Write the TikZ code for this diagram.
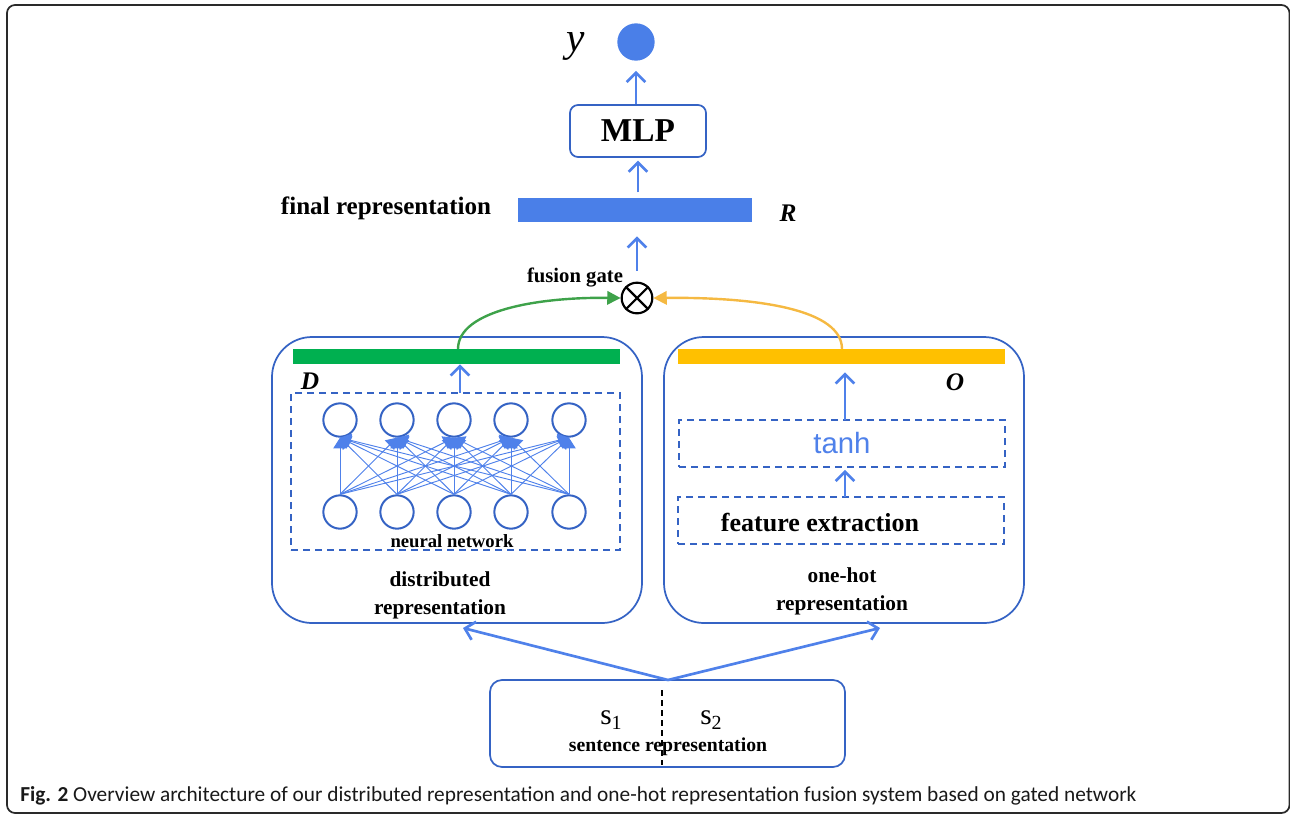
\documentclass[tikz,border=0pt]{standalone}
\usepackage{fontspec}
\setmainfont{Liberation Serif}
\newfontfamily\capfont{Carlito}
\newfontfamily\arialfont{Liberation Sans}
\usetikzlibrary{arrows.meta}
\definecolor{abl}{HTML}{4F81EA}
\definecolor{bbl}{HTML}{3563C4}
\definecolor{fbl}{HTML}{4A7FE8}
\definecolor{gbar}{HTML}{00B050}
\definecolor{ybar}{HTML}{FFC000}
\definecolor{gcur}{HTML}{3EA24A}
\definecolor{ycur}{HTML}{F5B942}
\definecolor{frm}{HTML}{2A2A2A}
\begin{document}
\begin{tikzpicture}[x=0.75pt,y=-0.75pt,
  box/.style={draw=bbl,line width=1.3pt,rounded corners=#1,inner sep=0pt},
  dbox/.style={draw=bbl,line width=1.3pt,dash pattern=on 5.25pt off 3.75pt,inner sep=0pt},
  barnode/.style={inner sep=0pt,draw=none},
  arr/.style={draw=abl,line width=2pt,-{Straight Barb[length=7pt,width=14pt,line width=2pt]}},
  neuron/.style={circle,draw=bbl,line width=1.5pt,minimum size=25pt,inner sep=0pt},
  nnline/.style={draw=abl,line width=0.7pt,-{Triangle[length=8pt,width=10pt]}},
  lbl/.style={inner sep=0pt,font=\bfseries\fontsize{#1}{#1}\selectfont},
  ilbl/.style={inner sep=0pt,font=\bfseries\itshape\fontsize{#1}{#1}\selectfont},
]
\useasboundingbox (0,0) rectangle (1290,815);
\begin{scope}
\clip (0,0) rectangle (1290,815);
\draw[frm,line width=1.3pt,rounded corners=6pt] (7,5) rectangle (1289.5,813);
\end{scope}

% top part
\node[circle,fill=fbl,minimum size=28pt,inner sep=0pt] (yout) at (636,42) {};
\node[inner sep=0pt,font=\itshape\fontsize{31}{31}\selectfont] (ylbl) at (576,46) {y};
\node[box=6pt,minimum width=102pt,minimum height=39pt,font=\bfseries\fontsize{25}{25}\selectfont] (mlp) at (638,131) {MLP};
\node[barnode,fill=fbl,minimum width=175.5pt,minimum height=18pt] (rbar) at (635,210) {};
\node[lbl=18.8] (frl) at (386,208) {final representation};
\node[ilbl=19] (rl) at (788,213) {R};
\node[circle,draw=black,line width=1.6pt,minimum size=23pt,inner sep=0pt] (gate) at (637,298) {};
\draw[black,line width=1.6pt] (gate.north west) -- (gate.south east) (gate.north east) -- (gate.south west);
\node[lbl=15.5] (fgl) at (575,277) {fusion gate};

\draw[arr,shorten <=8pt,shorten >=10.5pt] (gate.north) -- (rbar.south -| gate.north);
\draw[arr,shorten <=4pt,shorten >=2pt] (rbar.north -| mlp.south) -- (mlp.south);
\draw[arr,shorten >=7.5pt] (mlp.north -| yout.south) -- (yout.south);

% left box
\node[box=30pt,minimum width=277.5pt,minimum height=214.5pt] (lbox) at (457,480) {};
\node[barnode,fill=gbar,minimum width=245.25pt,minimum height=11.25pt] (gb) at (456.5,356.5) {};
\node[ilbl=19] (dl) at (310,381) {D};
\node[dbox,minimum width=246.75pt,minimum height=117.75pt] (nnbox) at (455.5,471.5) {};
\coordinate (nnt) at (460,393);
\draw[arr] (nnt) -- (nnt |- gb.south);
\foreach \i/\x in {1/340,2/397,3/454,4/511,5/569}{
  \node[neuron] (t\i) at (\x,420) {};
  \node[neuron] (b\i) at (\x,512) {};
}
\foreach \i in {1,...,5}{
  \foreach \j in {1,...,5}{
    \draw[nnline] (b\i.north) -- (t\j.south);
  }
}
\node[lbl=14] (nnl) at (452,541) {neural network};
\node[lbl=16,align=center] (drl) at (440,595) {distributed\\[5pt]representation};

% right box
\node[box=30pt,minimum width=270pt,minimum height=214.5pt] (rbox) at (844,480) {};
\node[barnode,fill=ybar,minimum width=245.25pt,minimum height=11.25pt] (yb) at (841.5,356.5) {};
\node[ilbl=19] (ol) at (955,382) {O};
\node[dbox,minimum width=244.5pt,minimum height=35.25pt,font=\arialfont\fontsize{22}{22}\selectfont,text=abl] (tanhb) at (842,443.5) {tanh};
\node[dbox,minimum width=244.5pt,minimum height=35.25pt] (feb) at (841,520.5) {};
\node[lbl=19.5] (fel) at (820,522) {feature extraction};
\coordinate (tt) at (845,420);
\coordinate (ft) at (845,497);
\draw[arr,shorten >=6pt] (tt) -- (tt |- yb.south);
\draw[arr,shorten >=1.5pt] (ft) -- (ft |- tanhb.south);
\node[lbl=16,align=center] (ohl) at (842,591) {one-hot\\[5pt]representation};

% fusion curves
\coordinate (gs) at (458,349);
\coordinate (ys) at (842,349);
\draw[gcur,line width=1.8pt,-{Triangle[length=10pt,width=10pt]}] (gs) .. controls (458,310) and (540,297) .. (gate.west);
\draw[ycur,line width=1.8pt,-{Triangle[length=10pt,width=10pt]}] (ys) .. controls (842,310) and (760,297) .. (gate.east);

% sentence box
\node[box=9pt,minimum width=266.25pt,minimum height=65.25pt] (sbox) at (667.5,723.5) {};
\coordinate (dtop) at (662,690);
\coordinate (dbot) at (662,765);
\draw[black,line width=1.1pt,dash pattern=on 4.5pt off 3pt] (dtop) -- (dbot);
\node[inner sep=0pt,font=\fontsize{22}{22}\selectfont] (s1) at (611,720) {s\raisebox{-0.35ex}{\fontsize{15}{15}\selectfont 1}};
\node[inner sep=0pt,font=\fontsize{22}{22}\selectfont] (s2) at (711,720) {s\raisebox{-0.35ex}{\fontsize{15}{15}\selectfont 2}};
\node[lbl=14.8] (srl) at (668,747) {sentence representation};
\coordinate (split) at (668,680);
\coordinate (lt) at (463,628);
\coordinate (rt) at (880,628);
\draw[arr] (split) -- (lt);
\draw[arr] (split) -- (rt);

% caption
\node[anchor=west,inner sep=0pt,text=black!90,font=\capfont\fontsize{16}{18}\selectfont] (cap) at (20,796) {\textbf{Fig. 2} Overview architecture of our distributed representation and one-hot representation fusion system based on gated network};
\end{tikzpicture}
\end{document}
